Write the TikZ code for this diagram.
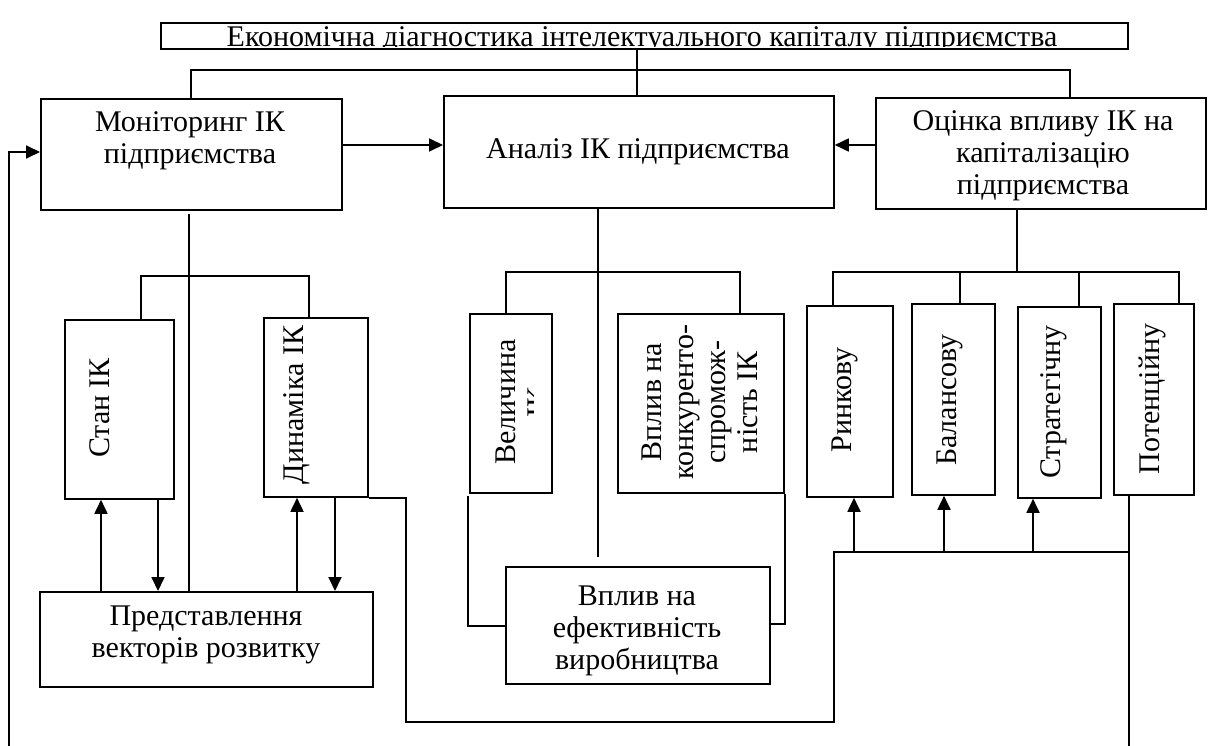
\documentclass[tikz,border=0pt]{standalone}
\usepackage{fontspec}
\setmainfont{Liberation Serif}
\usetikzlibrary{arrows.meta}
\begin{document}
\begin{tikzpicture}[x=1pt,y=-1pt,
  ln/.style={line width=1.8pt},
  box/.style={draw,line width=1.8pt,inner sep=0pt,anchor=north west},
  txt/.style={font=\fontsize{30}{32}\selectfont,align=center,inner sep=0pt},
  vtxt/.style={txt,rotate=90},
  arr/.style={line width=1.8pt,-{Triangle[length=14pt,width=13pt]}},
]
\useasboundingbox (0,0) rectangle (1214,746);
% boxes
\node[box,minimum width=967pt,minimum height=26pt] (title) at (160,22) {};
\node[box,minimum width=301pt,minimum height=111pt] (mon) at (40,98) {};
\node[box,minimum width=390pt,minimum height=112pt] (ana) at (443,95) {};
\node[box,minimum width=330pt,minimum height=111pt] (ocin) at (875,97) {};
\node[box,minimum width=109pt,minimum height=179pt] (stan) at (64,319) {};
\node[box,minimum width=104pt,minimum height=179pt] (dyn) at (263,317) {};
\node[box,minimum width=82pt,minimum height=179pt] (vel) at (469,313) {};
\node[box,minimum width=166pt,minimum height=179pt] (vpk) at (617,313) {};
\node[box,minimum width=86pt,minimum height=191pt] (rynk) at (806,305) {};
\node[box,minimum width=83pt,minimum height=191pt] (bal) at (911,303) {};
\node[box,minimum width=83pt,minimum height=191pt] (strat) at (1017,306) {};
\node[box,minimum width=80pt,minimum height=191pt] (pot) at (1113,303) {};
\node[box,minimum width=333pt,minimum height=95pt] (pred) at (39,591) {};
\node[box,minimum width=264pt,minimum height=117pt] (vpe) at (505,566) {};
% texts
\begin{scope}
\clip (161,23) rectangle (1126,47);
\node[txt,anchor=base] (titletext) at (642,47) {Економічна діагностика інтелектуального капіталу підприємства};
\end{scope}
\node[txt] (montext) at (190,141) {Моніторинг ІК\\підприємства};
\node[txt] (anatext) at (638,152) {Аналіз ІК підприємства};
\node[txt] (ocintext) at (1043,156) {Оцінка впливу ІК на\\капіталізацію\\підприємства};
\node[txt] (predtext) at (206,635) {Представлення\\векторів розвитку};
\node[txt] (vpetext) at (637,631) {Вплив на\\ефективність\\виробництва};
\node[vtxt] (stantext) at (100,408) {Стан ІК};
\node[vtxt] (dyntext) at (297,405) {Динаміка ІК};
\begin{scope}
\clip (470,314) rectangle (533,491);
\node[vtxt] (veltext) at (522,402) {Величина\\ІК};
\end{scope}
\node[vtxt] (vpktext) at (700,402) {Вплив на\\конкуренто-\\спромож-\\ність ІК};
\node[vtxt] (rynktext) at (845,400) {Ринкову};
\node[vtxt] (baltext) at (950,400) {Балансову};
\node[vtxt] (strattext) at (1054,402) {Стратегічну};
\node[vtxt] (pottext) at (1152,399) {Потенційну};
% top connectors
\coordinate (tbL) at (191,70);
\coordinate (tbR) at (1070,70);
\draw[ln] (637,0 |- title.south) -- (637,0 |- ana.north);
\draw[ln] (tbL |- mon.north) -- (tbL) -- (tbR) -- (tbR |- ocin.north);
\draw[arr] (mon.east |- 0,145) -- (ana.west |- 0,145);
\draw[arr] (ocin.west |- 0,145) -- (ana.east |- 0,145);
\coordinate (fb) at (9,746);
\draw[arr] (fb) -- (9,152) -- (mon.west |- 0,152);
% monitoring branch
\draw[ln] (189,214) -- (189,0 |- pred.north);
\draw[ln] (141,0 |- stan.north) -- (141,276) -- (309,276) -- (309,0 |- dyn.north);
\draw[arr] (101,0 |- pred.north) -- (101,0 |- stan.south);
\draw[arr] (158,0 |- stan.south) -- (158,0 |- pred.north);
\draw[arr] (297,0 |- pred.north) -- (297,0 |- dyn.south);
\draw[arr] (335,0 |- dyn.south) -- (335,0 |- pred.north);
% analysis branch
\coordinate (anaend) at (598,557);
\draw[ln] (598,0 |- ana.south) -- (anaend);
\draw[ln] (506,0 |- vel.north) -- (506,272) -- (740,272) -- (740,0 |- vpk.north);
\draw[ln] (468,496) -- (468,626) -- (vpe.west |- 0,626);
\draw[ln] (785,494) -- (785,624) -- (vpe.east |- 0,624);
% evaluation branch
\draw[ln] (1017,0 |- ocin.south) -- (1017,272);
\draw[ln] (833,0 |- rynk.north) -- (833,272) -- (1179,272) -- (1179,0 |- pot.north);
\draw[ln] (960,272) -- (960,0 |- bal.north);
\draw[ln] (1079,272) -- (1079,0 |- strat.north);
% long loop
\coordinate (botR) at (1129,746);
\draw[ln] (dyn.south east) -- (406,0 |- dyn.south east) -- (406,722) -- (834,722) -- (834,552) -- (1129,552);
\draw[ln] (1129,0 |- pot.south) -- (botR);
\draw[arr] (854,552) -- (854,0 |- rynk.south);
\draw[arr] (944,552) -- (944,0 |- bal.south);
\draw[arr] (1033,552) -- (1033,0 |- strat.south);
\end{tikzpicture}
\end{document}
